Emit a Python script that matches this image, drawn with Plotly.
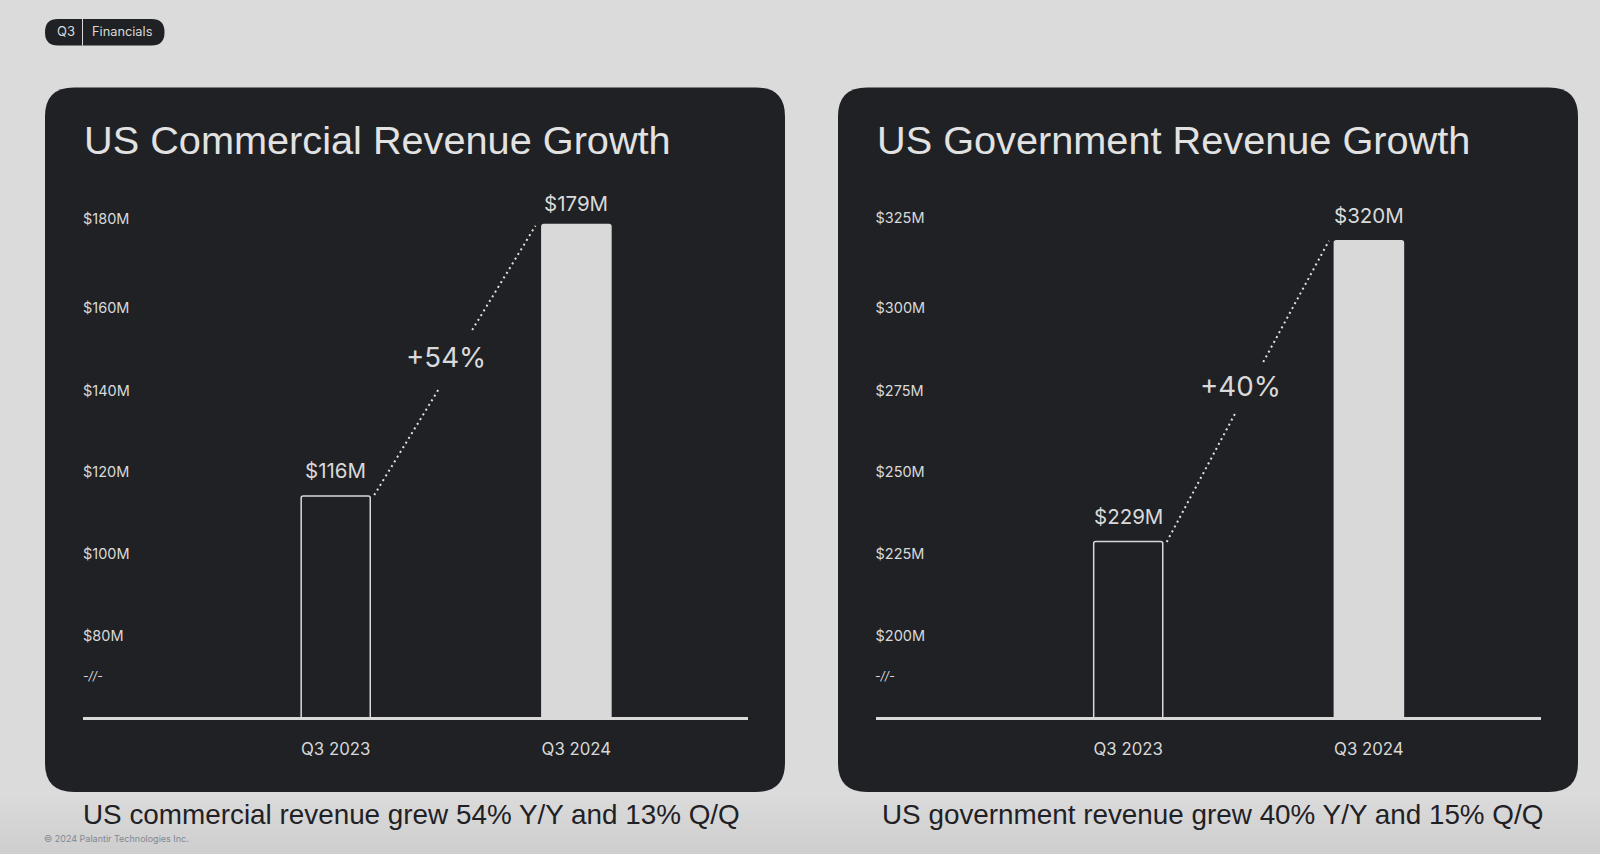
import plotly.graph_objects as go

W, H = 1600, 854
BG = "#dbdbdb"
CARD = "#1f2125"
LIGHT = "#d9d9d9"
FONT = "Inter"
HEAD_FONT = "Liberation Sans"

categories = ["Q3 2023", "Q3 2024"]
commercial_values = [116, 179]
government_values = [229, 320]
commercial_labels = ["$116M", "$179M"]
government_labels = ["$229M", "$320M"]
commercial_ticks = [180.3, 159.7, 140.4, 121.5, 102.6, 83.4]
government_ticks = [327.0, 299.8, 274.7, 250.1, 225.3, 200.5]
commercial_tick_text = ["$180M", "$160M", "$140M", "$120M", "$100M", "$80M"]
government_tick_text = ["$325M", "$300M", "$275M", "$250M", "$225M", "$200M"]
commercial_conn_x = [0.16, 0.428, None, 0.567, 0.83]
commercial_conn_y = [116.2, 140.8, None, 154.5, 178.7]
government_conn_x = [0.16, 0.443, None, 0.561, 0.834]
government_conn_y = [228.9, 267.6, None, 283.3, 320.0]
page_fade = ["#dadada", "#d9d9d9", "#d8d8d8", "#d7d7d7", "#d6d6d6", "#d5d5d5", "#d4d4d4",
             "#d3d3d3", "#d2d2d2", "#d1d1d1", "#d0d0d0", "#cfcfcf", "#cecece"]


def fx(p):
    return p / W


def fy(p):
    return 1 - p / H


def rrect(x0, y0, x1, y1, r):
    a, b, c, d = fx(x0), fy(y0), fx(x1), fy(y1)
    rx, ry = r / W, r / H
    return (
        f"M{a+rx},{b} L{c-rx},{b} Q{c},{b} {c},{b-ry} L{c},{d+ry} Q{c},{d} {c-rx},{d} "
        f"L{a+rx},{d} Q{a},{d} {a},{d+ry} L{a},{b-ry} Q{a},{b} {a+rx},{b} Z"
    )


fig = go.Figure()
shapes = []
annotations = []


def note(text, x, y, size, color=LIGHT, anchor="left", family=FONT):
    annotations.append(dict(text=text, x=fx(x), y=fy(y), xref="paper", yref="paper",
                            xanchor=anchor, yanchor="middle", showarrow=False,
                            font=dict(family=family, size=size, color=color)))


# bottom darkening of the page
for i, col in enumerate(page_fade):
    shapes.append(dict(type="rect", xref="paper", yref="paper", x0=0, x1=1, y0=0, y1=fy(796 + i * 4.5),
                       fillcolor=col, line_width=0, layer="below"))

# pill
shapes.append(dict(type="path", xref="paper", yref="paper", path=rrect(45, 19, 164.5, 45.5, 13),
                   fillcolor=CARD, line_width=0, layer="below"))
shapes.append(dict(type="line", xref="paper", yref="paper", x0=fx(82.5), x1=fx(82.5), y0=fy(19), y1=fy(45.5),
                   line=dict(color=LIGHT, width=1), layer="below"))
note("Q3", 65.5, 31.5, 13, anchor="center")
note("Financials", 122, 31.5, 12.8, anchor="center")

panels = [
    dict(x0=45, ax0=83, values=commercial_values, labels=commercial_labels, ticks=commercial_ticks,
         tick_text=commercial_tick_text, ymin=64.7, ymax=187.0, conn_x=commercial_conn_x, conn_y=commercial_conn_y,
         title="US Commercial Revenue Growth", pct="+54%", pct_xy=(445.5, 357.5), shifts=[10.5, 6.5],
         caption="US commercial revenue grew 54% Y/Y and 13% Q/Q", cap_x=80.5),
    dict(x0=838, ax0=875.5, values=government_values, labels=government_labels, ticks=government_ticks,
         tick_text=government_tick_text, ymin=175.95, ymax=335.35, conn_x=government_conn_x, conn_y=government_conn_y,
         title="US Government Revenue Growth", pct="+40%", pct_xy=(1240, 385.7), shifts=[10.5, 10.5],
         caption="US government revenue grew 40% Y/Y and 15% Q/Q", cap_x=879.5),
]

for i, p in enumerate(panels):
    suffix = "" if i == 0 else "2"
    xa, ya = "x" + suffix, "y" + suffix
    shapes.append(dict(type="path", xref="paper", yref="paper", path=rrect(p["x0"], 87.5, p["x0"] + 740, 792, 29),
                       fillcolor=CARD, line_width=0, layer="below"))
    fig.add_trace(go.Bar(x=[0, 1], y=p["values"], xaxis=xa, yaxis=ya, width=0.287,
                         showlegend=False, hoverinfo="skip",
                         marker=dict(color=[CARD, LIGHT], line=dict(color=LIGHT, width=1.5))))
    fig.add_trace(go.Scatter(x=p["conn_x"], y=p["conn_y"], xaxis=xa, yaxis=ya, mode="lines", showlegend=False,
                             hoverinfo="skip", line=dict(color="#e0e0e0", width=2, dash="2px 3.5px")))
    axis_x = dict(domain=[fx(p["ax0"]), fx(p["ax0"] + 665)], range=[-1.05, 1.713], anchor=ya,
                  tickmode="array", tickvals=[0, 1], ticktext=categories, ticks="",
                  showgrid=False, zeroline=False, showline=True, linecolor=LIGHT, linewidth=3,
                  ticklabelstandoff=15, tickfont=dict(family=FONT, size=16.8, color=LIGHT))
    axis_y = dict(domain=[fy(717), fy(190)], range=[p["ymin"], p["ymax"]], anchor=xa,
                  tickmode="array", tickvals=p["ticks"], ticktext=p["tick_text"], ticks="",
                  ticklabelposition="inside", ticklabelstandoff=-3, showgrid=False, zeroline=False, showline=False,
                  tickfont=dict(family=FONT, size=14.5, color=LIGHT))
    fig.update_layout(**{"xaxis" + suffix: axis_x, "yaxis" + suffix: axis_y})
    for k, (lab, val) in enumerate(zip(p["labels"], p["values"])):
        annotations.append(dict(text=lab, x=k, y=val, xref=xa, yref=ya, xanchor="center", yanchor="bottom",
                                yshift=p["shifts"][k], showarrow=False,
                                font=dict(family=FONT, size=20.5, color=LIGHT)))
    note(p["title"], p["x0"] + 36.5, 140, 39.7, color="#e2e2e2", family=HEAD_FONT)
    note(p["pct"], p["pct_xy"][0], p["pct_xy"][1], 27.7, anchor="center")
    note("<i>-//-</i>", p["ax0"] - 2.5, 675.5, 12)
    note(p["caption"], p["cap_x"], 814.5, 27.85, color=CARD, family=HEAD_FONT)

note("© 2024 Palantir Technologies Inc.", 41.5, 838, 9, color="#7f8794")

fig.update_layout(width=W, height=H, margin=dict(l=0, r=0, t=0, b=0), autosize=False,
                  paper_bgcolor=BG, plot_bgcolor="rgba(0,0,0,0)", shapes=shapes, annotations=annotations,
                  font=dict(family=FONT, color=LIGHT), barcornerradius=2)
fig.write_html("out.html", config={"displayModeBar": False},
               post_script="document.body.style.margin='0';document.documentElement.style.overflow='hidden';")
